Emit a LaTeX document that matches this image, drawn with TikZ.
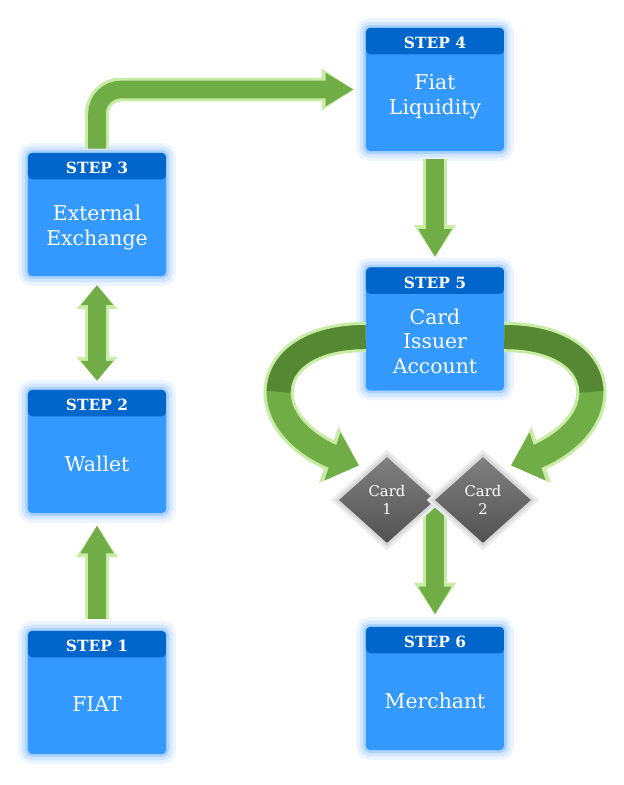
\documentclass[tikz,border=0pt]{standalone}
\usepackage{fontspec}
\setmainfont{DejaVu Serif}
\usetikzlibrary{shapes.geometric,arrows.meta,bending,positioning}

\definecolor{bodyblue}{RGB}{51,153,255}
\definecolor{headblue}{RGB}{0,102,204}
\definecolor{glowblue}{RGB}{160,205,255}
\definecolor{arrowgreen}{RGB}{112,173,71}
\definecolor{backgreen}{RGB}{86,136,52}
\definecolor{glowgreen}{RGB}{200,235,165}
\definecolor{cardtop}{RGB}{128,128,128}
\definecolor{cardbot}{RGB}{82,82,82}

\tikzset{
  fhead/.tip={Triangle[length=0.7cm,width=0.78cm]},
  fglow/.tip={Triangle[length=0.8cm,width=1.0cm]},
  shead/.tip={Triangle[length=0.5cm,width=0.78cm]},
  sglow/.tip={Triangle[length=0.6cm,width=1.0cm]},
  bhead/.tip={Triangle[length=0.7cm,width=1.22cm]},
  bglow/.tip={Triangle[length=0.8cm,width=1.44cm]},
  stepbox/.style={rectangle, rounded corners=3pt, fill=bodyblue,
    minimum width=3.45cm, minimum height=3.08cm,
    preaction={draw=glowblue, line width=14pt, opacity=0.2},
    preaction={draw=glowblue, line width=9pt, opacity=0.35},
    preaction={draw=glowblue, line width=4pt, opacity=0.8},
    path picture={\fill[headblue] (path picture bounding box.north west)
      rectangle ([yshift=-0.66cm]path picture bounding box.north east);}},
  steptitle/.style={text=white, font=\bfseries\fontsize{11}{12}\selectfont},
  steptext/.style={text=white, align=center, font=\fontsize{14.5}{17.4}\selectfont},
  card/.style={diamond, minimum width=2.4cm, minimum height=2.15cm, inner sep=0pt,
    top color=cardtop, bottom color=cardbot, text=white, align=center,
    font=\fontsize{10.5}{13}\selectfont,
    preaction={draw=black!8, line width=8pt},
    preaction={draw=black!15, line width=4pt}},
  flow/.style={draw=arrowgreen, line width=12.5pt, -fhead,
    preaction={draw=glowgreen, line width=17pt, -fglow}},
  flowboth/.style={draw=arrowgreen, line width=12.5pt, shead-shead,
    preaction={draw=glowgreen, line width=17pt, sglow-sglow}},
  bigflow/.style={draw=arrowgreen, line width=17pt, -bhead,
    preaction={draw=glowgreen, line width=21.5pt, -bglow}},
  backband/.style={draw=backgreen, line width=17pt}
}

\begin{document}
\begin{tikzpicture}[x=0.025cm, y=-0.025cm]
\useasboundingbox (0,0) rectangle (624,785);

\node[stepbox] (S1) at (97,692.5) {};
\node[stepbox] (S2) at (97,451.5) {};
\node[stepbox] (S3) at (97,214.5) {};
\node[stepbox] (S4) at (435,89.5) {};
\node[stepbox] (S5) at (435,329) {};
\node[stepbox] (S6) at (435,688.5) {};

\node[steptitle, below=0.12cm of S1.north] (T1) {STEP 1};
\node[steptitle, below=0.12cm of S2.north] (T2) {STEP 2};
\node[steptitle, below=0.12cm of S3.north] (T3) {STEP 3};
\node[steptitle, below=0.12cm of S4.north] (T4) {STEP 4};
\node[steptitle, below=0.12cm of S5.north] (T5) {STEP 5};
\node[steptitle, below=0.12cm of S6.north] (T6) {STEP 6};

\node[steptext, yshift=-0.3cm] (L1) at (S1.center) {FIAT};
\node[steptext, yshift=-0.3cm] (L2) at (S2.center) {Wallet};
\node[steptext, yshift=-0.32cm] (L3) at (S3.center) {External\\Exchange};
\node[steptext, yshift=-0.18cm] (L4) at (S4.center) {Fiat\\Liquidity};
\node[steptext, yshift=-0.3cm] (L5) at (S5.center) {Card\\Issuer\\Account};
\node[steptext, yshift=-0.3cm] (L6) at (S6.center) {Merchant};

\draw[flow, shorten <=0.3cm, shorten >=0.3cm] (S1) -- (S2);
\draw[flowboth, shorten <=0.22cm, shorten >=0.22cm] (S3) -- (S2);
\draw[flow, rounded corners=0.6cm, shorten <=0.1cm, shorten >=0.3cm] (S3.north) |- (S4.west);
\draw[flow, shorten <=0.2cm, shorten >=0.25cm] (S4) -- (S5);

\coordinate (CM) at (435,500);
\draw[flow, shorten >=0.3cm] (CM) -- (S6.north);

\node[card] (C1) at (387,500) {Card\\1};
\node[card] (C2) at (483,500) {Card\\2};

\draw[bigflow, shorten >=0.1cm] ([yshift=-0.2cm]S5.west) .. controls (250,337) and (250,440) .. ([yshift=0.3cm]C1.north west);
\draw[bigflow, shorten >=0.1cm] ([yshift=-0.2cm]S5.east) .. controls (620,337) and (620,440) .. ([yshift=0.3cm]C2.north east);
\draw[backband] ([yshift=-0.2cm]S5.west) .. controls (307.7,337) and (279,362.8) .. (278.6,391.8);
\draw[backband] ([yshift=-0.2cm]S5.east) .. controls (562.2,337) and (591.1,362.8) .. (591.5,391.8);

\end{tikzpicture}
\end{document}
